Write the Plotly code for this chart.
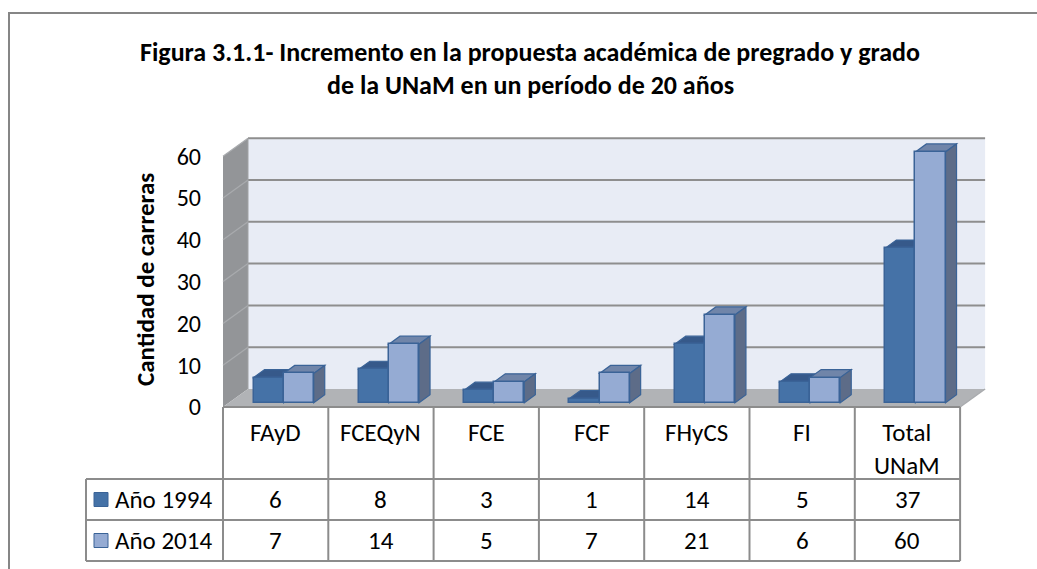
import plotly.graph_objects as go

# ---------------- data ----------------
categories = ["FAyD", "FCEQyN", "FCE", "FCF", "FHyCS", "FI", "Total UNaM"]
series_names = ["Año 1994", "Año 2014"]
values_1994 = [6, 8, 3, 1, 14, 5, 37]
values_2014 = [7, 14, 5, 7, 21, 6, 60]
y_ticks = [0, 10, 20, 30, 40, 50, 60]
title_lines = [
    "Figura 3.1.1- Incremento en la propuesta académica de pregrado y grado",
    "de la UNaM en un período de 20 años",
]
y_title = "Cantidad de carreras"

# ---------------- layout constants ----------------
W, H = 1037, 569
CAT_PX = 105.3          # pixels per category
UNIT_PX = 4.18          # pixels per value unit
ORIGIN_X_PX = 223       # front-left corner of floor
ORIGIN_Y_PX = 407
XR = [-ORIGIN_X_PX / CAT_PX, (W - ORIGIN_X_PX) / CAT_PX]
YR = [-(H - ORIGIN_Y_PX) / UNIT_PX, ORIGIN_Y_PX / UNIT_PX]

FONT = "Carlito, Lato, sans-serif"
C_DARK, C_DARK_TOP, C_DARK_SIDE = "#4572a7", "#36598a", "#2f4f7c"
C_LIGHT, C_LIGHT_TOP, C_LIGHT_SIDE = "#95abd3", "#7085a9", "#5d6c88"
C_EDGE = "#3a6397"
C_WALL, C_FLOOR, C_SIDEWALL = "#e8ecf5", "#b1b3b6", "#939598"
C_GRID, C_TABLE = "#8e8e8e", "#8c8c8c"

n = len(categories)
ymax = y_ticks[-1]
DX, DY = 25 / CAT_PX, 18 / UNIT_PX          # depth of the floor
BOX, BOY = 8 / CAT_PX, 4.3 / UNIT_PX        # front plane of bars
BDX, BDY = 11 / CAT_PX, 8 / UNIT_PX         # bar depth
GAP = 1.5
BW = 1 / (2 + GAP)


def py(px):
    return 1 - px / H


def pxx(px):
    return px / W


shapes = []


def poly(pts, fill, line=None, lw=0, layer="below", xref="x", yref="y"):
    d = "M " + " L ".join(f"{x},{y}" for x, y in pts) + " Z"
    shapes.append(dict(type="path", path=d, xref=xref, yref=yref, fillcolor=fill,
                       line=dict(color=line or fill, width=lw), layer=layer))


def seg(x0, y0, x1, y1, color, width, xref="x", yref="y", layer="below"):
    shapes.append(dict(type="line", x0=x0, y0=y0, x1=x1, y1=y1, xref=xref, yref=yref,
                       line=dict(color=color, width=width), layer=layer))


# back wall, side wall, floor
poly([(DX, DY), (n + DX, DY), (n + DX, ymax + DY), (DX, ymax + DY)], C_WALL)
poly([(0, 0), (DX, DY), (DX, ymax + DY), (0, ymax)], C_SIDEWALL)
poly([(0, 0), (n, 0), (n + DX, DY), (DX, DY)], C_FLOOR)
for v in y_ticks[1:]:
    seg(DX, v + DY, n + DX, v + DY, C_GRID, 2)
    seg(0, v, DX, v + DY, "#a9abae", 1.2)
seg(DX, DY, DX, ymax + DY, "#a0a2a5", 1)
seg(n, 0, n + DX, DY, "#a9abae", 1.5)

# 3-D faces of bars (drawn behind the front faces)
xc = [i + 0.5 + BOX for i in range(n)]
for vals, off, ctop, cside in [(values_1994, -BW, C_DARK_TOP, C_DARK_SIDE),
                              (values_2014, 0, C_LIGHT_TOP, C_LIGHT_SIDE)]:
    for i, v in enumerate(vals):
        x0 = xc[i] + off
        x1 = x0 + BW
        top = BOY + v
        poly([(x0, top), (x1, top), (x1 + BDX, top + BDY), (x0 + BDX, top + BDY)],
             ctop, C_EDGE, 1.2)
        poly([(x1, BOY), (x1 + BDX, BOY + BDY), (x1 + BDX, top + BDY), (x1, top)],
             cside, C_EDGE, 1.2)

fig = go.Figure()
fig.add_trace(go.Bar(x=xc, y=values_1994, base=BOY, width=BW, offset=-BW,
                     name=series_names[0], marker=dict(color=C_DARK, line=dict(color=C_EDGE, width=1.5))))
fig.add_trace(go.Bar(x=xc, y=values_2014, base=BOY, width=BW, offset=0,
                     name=series_names[1], marker=dict(color=C_LIGHT, line=dict(color=C_EDGE, width=1.5))))

# ---------------- data table ----------------
T_TOP, T_R1, T_R2, T_BOT = 407, 479, 520, 561
LEG_LEFT = 86
for i in range(n + 1):
    seg(i, py(T_TOP), i, py(T_BOT), C_TABLE, 2, yref="paper", layer="above")
seg(0, py(T_TOP), n, py(T_TOP), C_TABLE, 2, yref="paper", layer="above")
for ypx in (T_R1, T_R2, T_BOT):
    seg(pxx(LEG_LEFT), py(ypx), pxx(ORIGIN_X_PX + n * CAT_PX), py(ypx), C_TABLE, 2,
        xref="paper", yref="paper", layer="above")
seg(pxx(LEG_LEFT), py(T_R1), pxx(LEG_LEFT), py(T_BOT), C_TABLE, 2,
    xref="paper", yref="paper", layer="above")

# outer chart border
shapes.append(dict(type="path", xref="paper", yref="paper",
                   path=f"M {pxx(9)},-0.01 L {pxx(9)},{py(13)} L 1.01,{py(13)}",
                   line=dict(color="#868686", width=2), layer="above"))

annotations = []
tfont = dict(family=FONT, size=25, color="#000000")
for i, c in enumerate(categories):
    annotations.append(dict(x=i + 0.5, y=py(415), xref="x", yref="paper",
                            xanchor="center", yanchor="top",
                            text=c.replace(" ", "<br>"), showarrow=False,
                            font=tfont))
for r, (name, vals, col) in enumerate([(series_names[0], values_1994, C_DARK),
                                        (series_names[1], values_2014, C_LIGHT)]):
    yc = (T_R1 + T_R2) / 2 if r == 0 else (T_R2 + T_BOT) / 2
    for i, v in enumerate(vals):
        annotations.append(dict(x=i + 0.5, y=py(yc), xref="x", yref="paper",
                                xanchor="center", yanchor="middle",
                                text=str(v), showarrow=False, font=tfont))
    annotations.append(dict(x=pxx(113), y=py(yc), xref="paper", yref="paper",
                            xanchor="left", yanchor="middle",
                            text=name, showarrow=False, font=tfont))
    shapes.append(dict(type="rect", xref="paper", yref="paper",
                       x0=pxx(94), x1=pxx(108), y0=py(yc - 7), y1=py(yc + 7),
                       fillcolor=col, line=dict(color=C_EDGE, width=1), layer="above"))

for k, line in enumerate(title_lines):
    annotations.append(dict(x=pxx(530), y=py(52 + 33 * k), xref="paper", yref="paper",
                            xanchor="center", yanchor="middle",
                            text=f"<b>{line}</b>", showarrow=False,
                            font=dict(family=FONT, size=26, color="#000000")))
annotations.append(dict(x=pxx(145), y=py(280), xref="paper", yref="paper", textangle=-90,
                        xanchor="center", yanchor="middle",
                        text=f"<b>{y_title}</b>", showarrow=False,
                        font=dict(family=FONT, size=25, color="#000000")))

fig.update_layout(
    width=W, height=H, margin=dict(l=0, r=0, t=0, b=0),
    paper_bgcolor="white", plot_bgcolor="rgba(0,0,0,0)",
    barmode="overlay", showlegend=False, bargap=0,
    xaxis=dict(range=XR, domain=[0, 1], visible=False, fixedrange=True),
    yaxis=dict(range=YR, domain=[0, 1], tickvals=y_ticks, showgrid=False, zeroline=False,
               showline=False, anchor="free", position=ORIGIN_X_PX / W, side="left",
               ticks="", ticklabelstandoff=22, fixedrange=True,
               tickfont=dict(family=FONT, size=24, color="#000000")),
    shapes=shapes, annotations=annotations,
)
fig.write_html("out.html", config={"displayModeBar": False},
               post_script="document.body.style.margin='0';document.body.style.overflow='hidden';")
